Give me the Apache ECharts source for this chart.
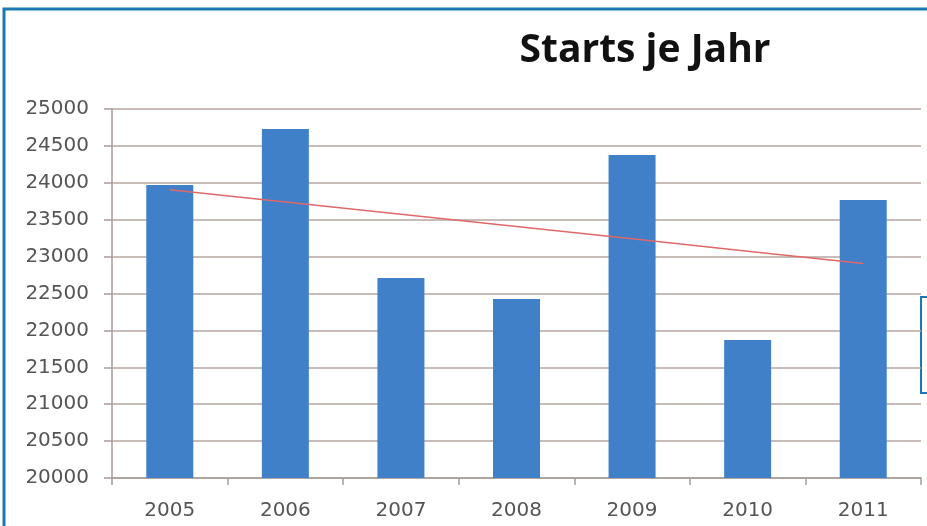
<!DOCTYPE html>
<html>
<head>
<meta charset="utf-8">
<script src="https://cdn.jsdelivr.net/npm/echarts@6/dist/echarts.min.js"></script>
<style>
  html, body { margin: 0; padding: 0; background: #ffffff; }
  #chart { width: 927px; height: 526px; }
</style>
</head>
<body>
<div id="chart"></div>
<script>
// Annual starts, 2005–2011
const years = ['2005', '2006', '2007', '2008', '2009', '2010', '2011'];
const starts = [23970, 24730, 22710, 22425, 24377, 21870, 23767];
const yTicks = [20000, 20500, 21000, 21500, 22000, 22500, 23000, 23500, 24000, 24500, 25000];

// Linear trend (least squares) over the yearly values
function linearTrend(values) {
  const n = values.length;
  const mx = (n - 1) / 2;
  const my = values.reduce((a, b) => a + b, 0) / n;
  let num = 0, den = 0;
  values.forEach((v, i) => { num += (i - mx) * (v - my); den += (i - mx) * (i - mx); });
  const slope = num / den;
  return values.map((_, i) => my + slope * (i - mx));
}
const trend = linearTrend(starts);

const chart = echarts.init(document.getElementById('chart'));
chart.setOption({
  backgroundColor: '#ffffff',
  animation: false,
  title: {
    text: 'Starts je Jahr',
    left: 640,
    top: 26,
    textAlign: 'center',
    textStyle: { fontFamily: 'Open Sans', fontWeight: 'bold', fontSize: 39, color: '#111111' }
  },
  grid: { left: 112, right: 6, top: 109, bottom: 48, containLabel: false },
  xAxis: {
    type: 'category',
    data: years,
    axisLine: { show: true, lineStyle: { color: '#a89c98', width: 1.5 } },
    axisTick: { show: true, length: 7, lineStyle: { color: '#a89c98', width: 1.5 } },
    axisLabel: { color: '#555555', fontFamily: 'DejaVu Sans', fontSize: 20, margin: 23 }
  },
  yAxis: {
    type: 'value',
    min: yTicks[0],
    max: yTicks[yTicks.length - 1],
    interval: yTicks[1] - yTicks[0],
    axisLine: { show: true, lineStyle: { color: '#a89c98', width: 1.5 } },
    axisTick: { show: true, length: 8, lineStyle: { color: '#a89c98', width: 1.5 } },
    axisLabel: {
      color: '#555555', fontFamily: 'DejaVu Sans', fontSize: 20, margin: 23,
      formatter: v => String(v)
    },
    splitLine: { show: true, lineStyle: { color: '#b4a6a0', width: 1.5 } }
  },
  series: [
    {
      type: 'bar',
      data: starts,
      barWidth: 47,
      itemStyle: { color: '#4080c8' }
    },
    {
      type: 'line',
      data: trend,
      symbol: 'none',
      lineStyle: { color: '#e06868', width: 1.5 },
      z: 5
    }
  ],
  graphic: [
    {
      type: 'rect',
      shape: { x: 4, y: 9, width: 960, height: 560 },
      style: { fill: 'none', stroke: '#1a78b4', lineWidth: 3 },
      silent: true
    },
    {
      type: 'rect',
      shape: { x: 921, y: 297, width: 40, height: 96 },
      style: { fill: '#ffffff', stroke: '#1a78b4', lineWidth: 2 },
      silent: true
    }
  ]
});
</script>
</body>
</html>
